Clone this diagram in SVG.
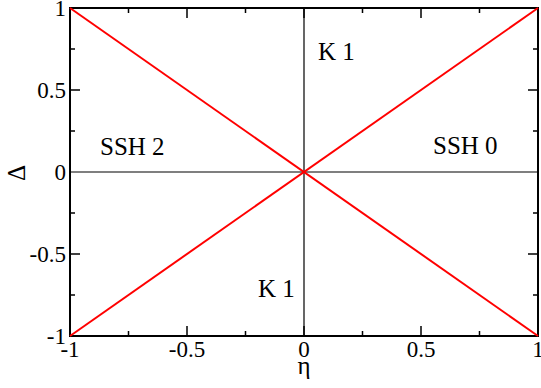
<svg xmlns="http://www.w3.org/2000/svg" width="541" height="388" viewBox="0 0 541 388">
<style>
.frame{fill:none;stroke:#000;stroke-width:2}
.tick{stroke:#000;stroke-width:1.5}
.zero{stroke:#000;stroke-width:1.2}
.red{stroke:#ff0000;stroke-width:2;fill:none}
text{font-family:"Liberation Serif","Times New Roman",serif;fill:#000}
.tl{font-size:23px}
.lbl{font-size:25px}
</style>
<rect width="541" height="388" fill="#fff"/>
<g id="axes">
<line class="zero" x1="70" y1="172" x2="538" y2="172"/>
<line class="zero" x1="304" y1="8" x2="304" y2="336"/>
<g id="ticks">
<path class="tick" d="M70,90h10M70,254h10M70,49h5M70,131h5M70,213h5M70,295h5"/>
<path class="tick" d="M538,90h-10M538,254h-10M538,49h-5M538,131h-5M538,213h-5M538,295h-5"/>
<path class="tick" d="M187,336v-10M421,336v-10M128.5,336v-5M245.5,336v-5M362.5,336v-5M479.5,336v-5M304,336v-10"/>
<path class="tick" d="M187,8v10M421,8v10M128.5,8v5M245.5,8v5M362.5,8v5M479.5,8v5M304,8v10"/>
</g>
<rect class="frame" x="70" y="8" width="468" height="328"/>
</g>
<g id="connectors">
<line class="red" x1="70" y1="8" x2="538" y2="336"/>
<line class="red" x1="70" y1="336" x2="538" y2="8"/>
</g>
<g id="yticklabels" class="tl" text-anchor="end">
<text x="66" y="16">1</text>
<text x="66" y="98">0.5</text>
<text x="66" y="180">0</text>
<text x="66" y="262">-0.5</text>
<text x="66" y="344">-1</text>
</g>
<g id="xticklabels" class="tl" text-anchor="middle">
<text x="70" y="357">-1</text>
<text x="187" y="357">-0.5</text>
<text x="304" y="357">0</text>
<text x="421" y="357">0.5</text>
<text x="538" y="357">1</text>
</g>
<g id="xlabel"><text class="lbl" x="304" y="374" text-anchor="middle">η</text></g>
<g id="ylabel"><text class="lbl" transform="translate(25,173) rotate(-90)" text-anchor="middle">Δ</text></g>
<g id="region-k1-top"><text class="lbl" x="318" y="60">K 1</text></g>
<g id="region-k1-bottom"><text class="lbl" x="258" y="297">K 1</text></g>
<g id="region-ssh2"><text class="lbl" x="100" y="155">SSH 2</text></g>
<g id="region-ssh0"><text class="lbl" x="433" y="154">SSH 0</text></g>
</svg>
